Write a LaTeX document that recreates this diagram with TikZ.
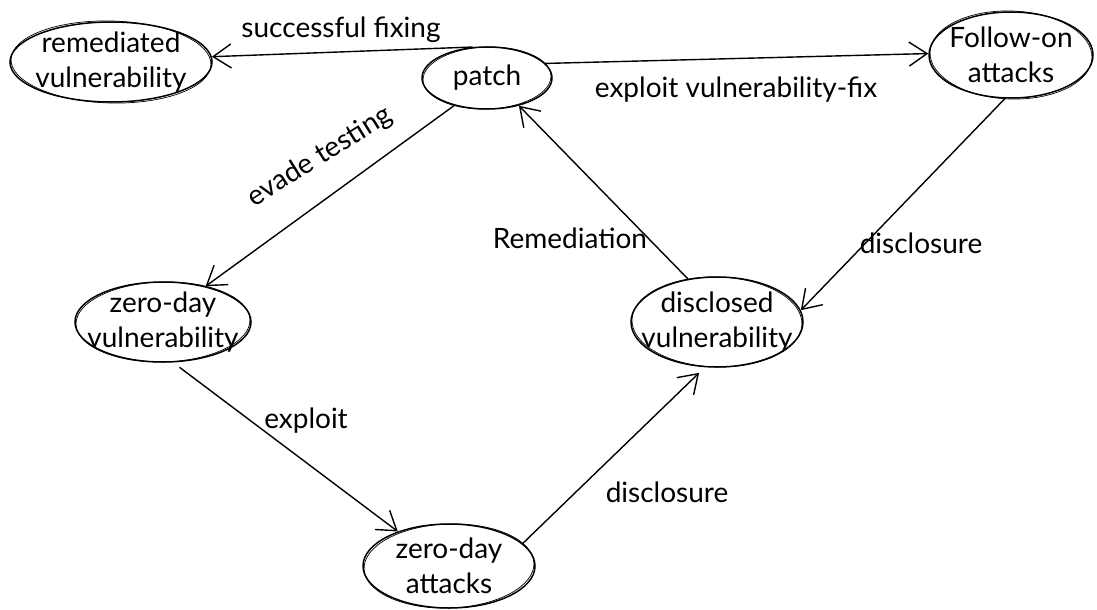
\documentclass[tikz,border=0pt]{standalone}
\usepackage{fontspec}
\setmainfont{Lato}
\usetikzlibrary{shapes.geometric,arrows.meta}
\begin{document}
\begin{tikzpicture}[x=1pt,y=-1pt,
  st/.style={ellipse,draw,line width=1.5pt,inner sep=0pt},
  tx/.style={align=center,inner sep=0pt,font=\fontsize{28}{35}\selectfont},
  sk/.style={line width=0.7pt},
  ed/.style={line width=1.4pt,-{Straight Barb[length=18pt,width=24pt,line width=1.4pt]}},
  lb/.style={font=\fontsize{28}{30}\selectfont}]
\useasboundingbox (0,0) rectangle (1097,610);
\node[st,minimum width=202pt,minimum height=80pt] (rem) at (111,62) {};
\node[st,minimum width=130pt,minimum height=62pt] (patch) at (487,78) {};
\node[st,minimum width=164pt,minimum height=86pt] (fol) at (1011,55) {};
\node[st,minimum width=176pt,minimum height=80pt] (zdv) at (163,322) {};
\node[st,minimum width=172pt,minimum height=90pt] (dis) at (717,322) {};
\node[st,minimum width=172pt,minimum height=84pt] (zda) at (449,566) {};

\node[tx] (remt) at (rem.center) {remediated\\vulnerability};
\node[tx] (patcht) at (patch.center) {patch};
\node[tx] (folt) at (fol.center) {Follow-on\\attacks};
\node[tx] (zdvt) at (zdv.center) {zero-day\\vulnerability};
\node[tx] (dist) at (dis.center) {disclosed\\vulnerability};
\node[tx] (zdat) at (zda.center) {zero-day\\attacks};

% sketchy second strokes
\draw[sk,rotate around={-1.5:(rem.center)}] (rem.center) ellipse [x radius=100pt,y radius=-41pt];
\draw[sk,rotate around={2:(patch.center)}] (patch.center) ellipse [x radius=64pt,y radius=-31pt];
\draw[sk,rotate around={-2:(fol.center)}] (fol.center) ellipse [x radius=81pt,y radius=-44pt];
\draw[sk,rotate around={1.5:(zdv.center)}] (zdv.center) ellipse [x radius=87pt,y radius=-40pt];
\draw[sk,rotate around={-1.5:(dis.center)}] (dis.center) ellipse [x radius=85pt,y radius=-45pt];
\draw[sk,rotate around={2:(zda.center)}] (zda.center) ellipse [x radius=85pt,y radius=-42pt];

\draw[ed] (patch.115) -- (rem.3);
\draw[ed] (patch.14) -- (fol.179);
\draw[ed] (patch.220) -- (zdv.40);
\draw[ed] (dis.124) -- (patch.319);
\draw[ed] (fol.262) -- (dis.8);
\draw[ed,shorten <=8pt] (zdv.284) -- (zda.146);
\draw[ed,shorten >=8pt] (zda.17) -- (dis.255);

\node[lb] (l1) at (341,30) {successful fixing};
\node[lb] (l2) at (736,90) {exploit vulnerability-fix};
\node[lb,rotate=32] (l3) at (320,157) {evade testing};
\node[lb] (l4) at (570,238) {Remediation};
\node[lb] (l5) at (921,243) {disclosure};
\node[lb] (l6) at (306,421) {exploit};
\node[lb] (l7) at (667,492) {disclosure};
\end{tikzpicture}
\end{document}
